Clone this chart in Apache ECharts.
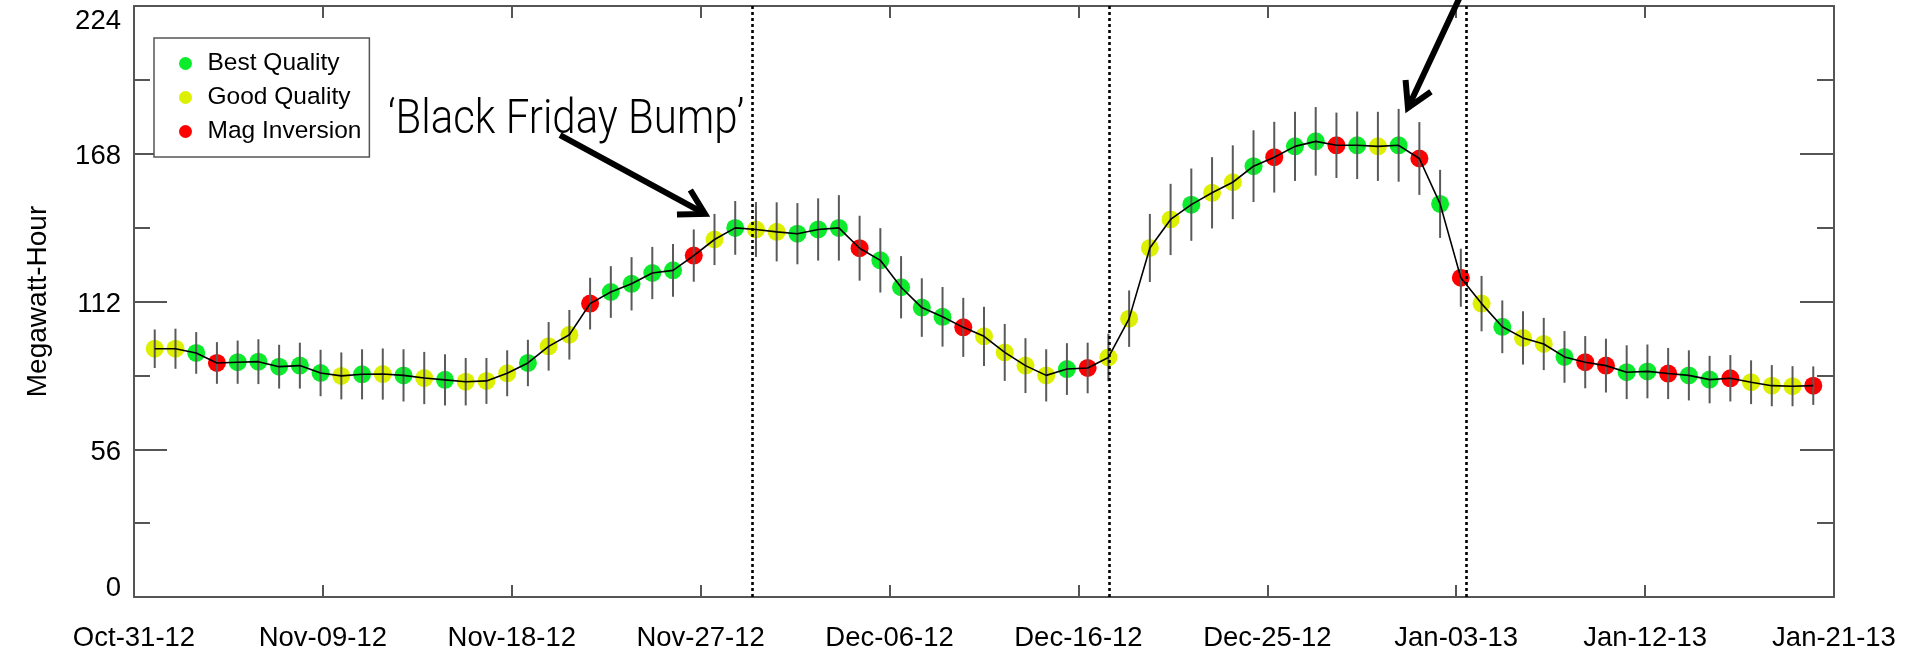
<!DOCTYPE html>
<html><head><meta charset="utf-8">
<script src="https://cdn.jsdelivr.net/npm/echarts@6/dist/echarts.min.js"></script>
<style>html,body{margin:0;padding:0;background:#fff}#c{width:1911px;height:655px}</style>
</head><body><div id="c"></div>
<script>
// ---- data ----
const xTickLabels = ['Oct-31-12','Nov-09-12','Nov-18-12','Nov-27-12','Dec-06-12','Dec-16-12','Dec-25-12','Jan-03-13','Jan-12-13','Jan-21-13'];
const yMin = 0, yMax = 224, yStep = 56;
const axisDays = 82;          // Oct-31-12 .. Jan-21-13, in days
const firstPointDay = 1;      // first point = Nov-01-12, then daily
const mwh = [94.1,94.1,92.5,88.7,89.0,89.2,87.3,87.7,84.9,83.8,
             84.4,84.5,84.0,83.0,82.3,81.6,81.9,84.8,88.7,95.0,
             99.4,111.2,115.6,118.7,122.8,123.8,129.4,135.5,139.9,139.3,
             138.4,137.7,139.3,139.9,132.2,127.6,117.4,109.7,106.2,102.2,
             98.8,92.7,87.7,84.0,86.4,86.8,90.8,105.5,132.3,143.1,
             148.7,153.2,157.2,163.3,166.7,170.8,172.7,171.2,171.2,170.8,
             171.2,166.2,149.0,121.0,111.2,102.4,98.2,95.9,91.0,89.0,
             87.7,85.2,85.5,84.7,84.0,82.4,82.9,81.4,80.1,79.9,
             80.1];
const errHalf = [7.3,7.6,7.9,7.9,8.2,8.5,8.3,8.7,8.8,8.9,
                 9.5,9.7,9.9,9.9,9.7,9.0,8.7,8.7,8.8,9.2,
                 9.4,9.8,9.8,10.1,9.9,10.0,9.9,9.7,10.2,10.4,
                 11.2,11.6,11.8,12.4,12.3,12.2,11.8,11.1,11.3,11.2,
                 11.2,10.8,10.4,9.9,9.8,9.6,9.0,10.7,12.9,13.5,
                 13.7,13.5,14.0,13.6,13.4,13.1,13.0,12.4,12.8,13.1,
                 13.8,13.8,12.9,11.0,10.5,10.0,10.1,9.9,9.8,9.9,
                 10.2,10.2,10.2,9.7,9.5,9.0,8.8,8.3,7.8,7.6,
                 7.3];
const quality = ['G','G','B','M','B','B','B','B','B','G',
                 'B','G','B','G','B','G','G','G','B','G',
                 'G','M','B','B','B','B','M','G','B','G',
                 'G','B','B','B','M','B','B','B','B','M',
                 'G','G','G','G','B','M','G','G','G','G',
                 'B','G','G','B','M','B','B','M','B','G',
                 'B','M','B','M','G','B','G','G','B','M',
                 'M','B','B','M','B','B','M','G','G','G',
                 'M'];
const qualityKeys = ['B','G','M'];
const qualityNames = {B:'Best Quality', G:'Good Quality', M:'Mag Inversion'};
const qualityColors = {B:'#0cec2c', G:'#dcf000', M:'#ff0000'};
const dividerDays = [29.8, 47.03, 64.25];
const annotationText = '\u2018Black Friday Bump\u2019';

// ---- build ----
const FONT = 'Liberation Sans, Arial, Helvetica, sans-serif';
const AX = '#555';
const pts = mwh.map((v, i) => [firstPointDay + i, v, errHalf[i], quality[i]]);

const scatterSeries = qualityKeys.map(k => ({
  name: qualityNames[k], type: 'scatter', xAxisIndex: 0, yAxisIndex: 0,
  data: pts.filter(p => p[3] === k).map(p => [p[0], p[1]]),
  symbol: 'circle', symbolSize: 18, z: 2,
  itemStyle: { color: qualityColors[k], opacity: 1 },
  silent: true
}));

const errSeries = {
  type: 'custom', name: 'err', z: 3, silent: true,
  data: pts.map(p => [p[0], p[1], p[2]]),
  encode: { x: 0, y: 1 },
  renderItem: function (params, api) {
    const x = api.value(0), v = api.value(1), e = api.value(2);
    const a = api.coord([x, v - e]), b = api.coord([x, v + e]);
    return { type: 'line', shape: { x1: a[0], y1: a[1], x2: b[0], y2: b[1] },
             style: { stroke: '#5a5a5a', lineWidth: 2 } };
  }
};

const lineSeries = {
  type: 'line', name: 'line', z: 4, silent: true,
  data: pts.map(p => [p[0], p[1]]),
  showSymbol: false, symbol: 'none',
  lineStyle: { color: '#000', width: 1.6 },
  markLine: {
    silent: true, symbol: ['none','none'], label: { show: false },
    lineStyle: { color: '#000', type: [3, 3], width: 2.6 },
    data: dividerDays.map(d => ({ xAxis: d }))
  }
};

const yLabelFmt = v => {
  if (v === yMax) return '{t|' + v + '}';
  if (v === yMin) return '{b|' + v + '}';
  return '{n|' + v + '}';
};

const option = {
  animation: false,
  backgroundColor: '#fff',
  grid: { left: 134, right: 77, top: 6, bottom: 58 },
  legend: {
    show: true, orient: 'vertical', left: 154, top: 38,
    data: qualityKeys.map(k => ({ name: qualityNames[k], icon: 'circle' })),
    itemWidth: 34, itemHeight: 13, itemGap: 9,
    padding: [13, 8, 13, 25],
    borderColor: AX, borderWidth: 1.5, backgroundColor: '#fff',
    textStyle: { fontFamily: FONT, fontSize: 24.5, color: '#000' },
    selectedMode: false
  },
  xAxis: [{
    type: 'value', min: 0, max: axisDays, interval: axisDays / 9, position: 'bottom',
    axisLine: { show: true, onZero: false, lineStyle: { color: AX, width: 2 } },
    axisTick: { show: true, inside: true, length: 12, lineStyle: { color: AX, width: 2 } },
    axisLabel: { show: true, margin: 27, fontFamily: FONT, fontSize: 27.5, color: '#000',
      formatter: v => xTickLabels[Math.round(v / (axisDays / 9))] || '' },
    splitLine: { show: false }
  }, {
    type: 'value', min: 0, max: axisDays, interval: axisDays / 9, position: 'top',
    axisLine: { show: true, onZero: false, lineStyle: { color: AX, width: 2 } },
    axisTick: { show: true, inside: true, length: 12, lineStyle: { color: AX, width: 2 } },
    axisLabel: { show: false }, splitLine: { show: false }
  }],
  yAxis: [{
    type: 'value', min: yMin, max: yMax, interval: yStep, position: 'left',
    name: 'Megawatt-Hour', nameLocation: 'middle', nameGap: 82,
    nameTextStyle: { fontFamily: FONT, fontSize: 28, color: '#000' },
    axisLine: { show: true, onZero: false, lineStyle: { color: AX, width: 2 } },
    axisTick: { show: true, inside: true, length: 33, lineStyle: { color: AX, width: 2 } },
    minorTick: { show: true, splitNumber: 2, length: 16, lineStyle: { color: AX, width: 2 } },
    axisLabel: { show: true, margin: 13, fontFamily: FONT, fontSize: 27.5, color: '#000',
      formatter: yLabelFmt,
      rich: { n: { padding: [6, 0, 0, 0] }, t: { padding: [30, 0, 0, 0] }, b: { padding: [0, 0, 18, 0] } } },
    splitLine: { show: false }, minorSplitLine: { show: false }
  }, {
    type: 'value', min: yMin, max: yMax, interval: yStep, position: 'right',
    axisLine: { show: true, onZero: false, lineStyle: { color: AX, width: 2 } },
    axisTick: { show: true, inside: true, length: 34, lineStyle: { color: AX, width: 2 } },
    minorTick: { show: true, splitNumber: 2, length: 17, lineStyle: { color: AX, width: 2 } },
    axisLabel: { show: false }, splitLine: { show: false }, minorSplitLine: { show: false }
  }],
  series: [...scatterSeries, errSeries, lineSeries]
};

const chart = echarts.init(document.getElementById('c'), null, { renderer: 'canvas' });
chart.setOption(option);

// ---- annotations (positioned in data coordinates) ----
const arrows = [
  { from: [20.55, 175.1], to: [27.54, 145.2] },
  { from: [63.96, 227.5], to: [61.45, 185.4] }
];
const textAnchor = [12.25, 180.3];
const g = [];
function px(p) { return chart.convertToPixel({ xAxisIndex: 0, yAxisIndex: 0 }, p); }
arrows.forEach(a => {
  const s = px(a.from), t = px(a.to);
  const dx = s[0] - t[0], dy = s[1] - t[1], L = Math.hypot(dx, dy);
  const ux = dx / L, uy = dy / L, bl = 28, ang = Math.PI / 6;
  const c = Math.cos(ang), sn = Math.sin(ang);
  const b1 = [t[0] + bl * (c * ux - sn * uy), t[1] + bl * (sn * ux + c * uy)];
  const b2 = [t[0] + bl * (c * ux + sn * uy), t[1] + bl * (-sn * ux + c * uy)];
  g.push({ type: 'line', z: 50, silent: true,
    shape: { x1: s[0], y1: s[1], x2: t[0] + ux * 2, y2: t[1] + uy * 2 },
    style: { stroke: '#000', lineWidth: 6 } });
  g.push({ type: 'polyline', z: 50, silent: true,
    shape: { points: [b1, t, b2] },
    style: { stroke: '#000', lineWidth: 6, fill: null, lineJoin: 'miter', miterLimit: 10 } });
});
const tp = px(textAnchor);
g.push({ type: 'text', z: 50, silent: true, x: tp[0], y: tp[1], scaleX: 1.0, scaleY: 1.15,
  style: { text: annotationText, fontFamily: 'Roboto, Liberation Sans, sans-serif', fontWeight: 300,
           fontSize: 42, fill: '#000', align: 'left', verticalAlign: 'middle' } });
chart.setOption({ graphic: g });
</script>
</body></html>
